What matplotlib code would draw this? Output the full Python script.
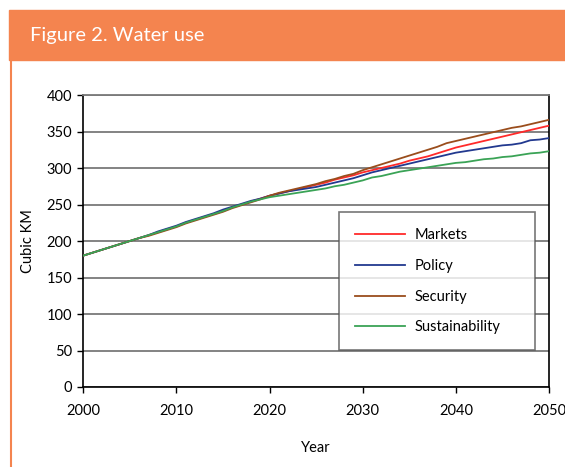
import matplotlib
matplotlib.use("Agg")
import matplotlib.pyplot as plt
from matplotlib.patches import Rectangle
from matplotlib.lines import Line2D

years = list(range(2000, 2051))

markets = [180, 184, 188, 192, 196, 200, 204, 208, 212, 216,
           220, 225, 229, 233, 237, 241, 246, 250, 254, 258,
           262, 265, 268, 271, 274, 277, 280, 284, 287, 290,
           294, 297, 300, 303, 306, 310, 313, 316, 320, 324,
           328, 331, 334, 337, 340, 343, 346, 349, 352, 355, 358]

policy = [180, 184, 188, 192, 196, 200, 204, 208, 213, 217,
          221, 226, 230, 234, 238, 243, 247, 251, 255, 258,
          262, 265, 268, 270, 272, 274, 277, 280, 283, 286,
          290, 294, 297, 300, 303, 306, 309, 312, 315, 318,
          321, 323, 325, 327, 329, 331, 332, 334, 338, 339, 341]

security = [180, 184, 188, 192, 196, 200, 204, 207, 211, 215,
            219, 224, 228, 232, 236, 240, 245, 249, 253, 257,
            262, 266, 269, 272, 275, 278, 282, 285, 289, 292,
            297, 301, 305, 309, 313, 317, 321, 325, 329, 334,
            337, 340, 343, 346, 349, 352, 355, 357, 360, 363, 366]

sustainability = [180, 184, 188, 192, 196, 200, 204, 208, 212, 216,
                  220, 225, 229, 233, 237, 241, 246, 250, 254, 257,
                  260, 262, 264, 266, 268, 270, 272, 275, 277, 280,
                  283, 287, 289, 292, 295, 297, 299, 301, 303, 305,
                  307, 308, 310, 312, 313, 315, 316, 318, 320, 321, 323]

series = [
    ("Markets", markets, "#ff2a2a"),
    ("Policy", policy, "#22398f"),
    ("Security", security, "#9a4d1c"),
    ("Sustainability", sustainability, "#3aa356"),
]

x_ticks = [2000, 2010, 2020, 2030, 2040, 2050]
y_ticks = [0, 50, 100, 150, 200, 250, 300, 350, 400]

FONT = ["Lato", "DejaVu Sans"]
plt.rcParams["font.family"] = FONT

W, H = 565, 467
fig = plt.figure(figsize=(W / 100, H / 100), dpi=100)

orange = "#f4844f"
# header band and left rule
fig.patches.append(Rectangle((9 / W, 1 - 60 / H), (W - 9) / W, 50 / H,
                             transform=fig.transFigure, color=orange, zorder=0))
fig.lines.append(Line2D([10.5 / W, 10.5 / W], [0, 1 - 60 / H],
                        transform=fig.transFigure, color=orange, lw=1.5))
fig.text(30 / W, 1 - 35 / H, "Figure 2. Water use", color="white",
         fontsize=14.5, fontweight="normal", va="center", ha="left")

ax = fig.add_axes([83.3 / W, 1 - 387 / H, (549 - 83.3) / W, (387 - 95) / H])

for name, vals, col in series:
    ax.plot(years, vals, color=col, lw=1.3, label=name, zorder=3)

ax.set_xlim(2000, 2050)
ax.set_ylim(0, 400)
ax.set_xticks(x_ticks)
ax.set_yticks(y_ticks)
ax.grid(axis="y", color="#7a7a7a", lw=1.3, zorder=1)
ax.tick_params(axis="both", direction="out", length=4, width=1,
               labelsize=10.5, colors="black", pad=4)
ax.tick_params(axis="x", pad=8)
for s in ["left", "bottom", "right"]:
    ax.spines[s].set_color("black")
    ax.spines[s].set_linewidth(1.2)
ax.spines["top"].set_color("#7a7a7a")
ax.spines["top"].set_linewidth(1.3)

ax.set_xlabel("Year", fontsize=10.5, labelpad=17)
ax.set_ylabel("Cubic KM", fontsize=10.5, labelpad=8)

leg = ax.legend(loc="upper left", bbox_to_anchor=(0.549, 0.127, 0.421, 0.472),
                mode="expand", fancybox=False, frameon=True, fontsize=10.5,
                handlelength=3.4, handletextpad=0.7, labelspacing=1.15,
                borderpad=1.1, borderaxespad=0)
leg.get_frame().set_edgecolor("#555555")
leg.get_frame().set_linewidth(1.2)
leg.set_zorder(5)

fig.savefig("out.png", dpi=100)
